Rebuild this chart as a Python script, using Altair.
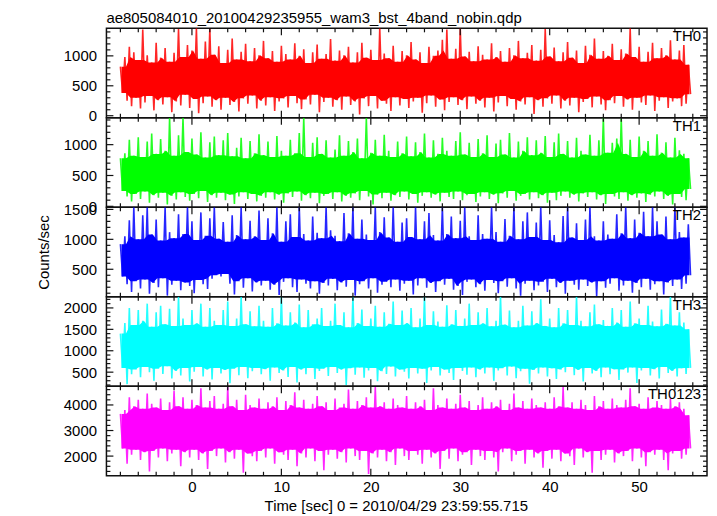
import altair as alt
import pandas as pd

FONT = "Liberation Sans"
TITLE = "ae805084010_20100429235955_wam3_bst_4band_nobin.qdp"
X_TITLE = "Time [sec] 0 = 2010/04/29 23:59:55.715"
Y_TITLE = "Counts/sec"

T_START = -8.0
BIN = 0.5

panel_names = ["TH0", "TH1", "TH2", "TH3", "TH0123"]
panel_colors = ["#ff0000", "#00ff00", "#0000ff", "#00ffff", "#ff00ff"]
y_domains = [[-35, 1460], [-16, 1435], [40, 1535], [170, 2260], [1230, 4730]]
y_major = [[0, 500, 1000], [0, 500, 1000], [500, 1000, 1500],
           [500, 1000, 1500, 2000], [2000, 3000, 4000]]
y_minor_step = [100, 100, 100, 100, 200]
x_domain = [-9.56, 57.59]
x_major = [0, 10, 20, 30, 40, 50]
x_minor_step = 2

# ---- TH0 (red): upper / lower excursions per 0.5 s bin ----
th0_hi = [820, 980, 1150, 1060, 930, 1440, 1010, 890, 1220, 970, 1130, 900, 1050, 1450, 980, 1180,
          1090, 1460, 950, 1240, 1450, 1020, 1160, 880, 1100, 1290, 940, 1070, 1200, 910, 1130, 1010,
          1250, 960, 1080, 900, 1170, 1030, 940, 1210, 1000, 1110, 880, 1060, 1190, 950, 1030, 1280,
          920, 1090, 1010, 1150, 890, 1060, 1220, 970, 1100, 930, 1460, 1040, 960, 1170, 900, 1080,
          1010, 1230, 940, 1060, 880, 1150, 1000, 1090, 1270, 1440, 950, 1120, 1460, 990, 1070, 910,
          1160, 1020, 940, 1210, 980, 1080, 900, 1130, 1010, 1250, 960, 1050, 1180, 920, 1100, 1450,
          990, 1140, 910, 1060, 1230, 970, 1090, 880, 1170, 1020, 1290, 950, 1080, 1000, 1200, 930,
          1110, 1040, 1460, 980, 1150, 900, 1070, 1220, 960, 1130, 1010, 1260, 940, 1090, 1180, 850]
th0_lo = [380, 250, 160, 300, 120, 220, 330, 90, 260, 190, 310, 60, 240, 170, 350, 130,
          280, 40, 210, 320, 150, 260, 100, 300, 180, 230, 70, 290, 200, 340, 120, 250,
          170, 310, 80, 240, 290, 140, 330, 210, 110, 270, 190, 350, 60, 230, 300, 150,
          260, 100, 320, 180, 240, 20, 290, 160, 330, 120, 250, 200, 80, 310, 170, 280,
          130, 240, 300, 50, 210, 340, 150, 270, 90, 230, 310, 180, 260, 110, 320, 200,
          250, 140, 300, 70, 220, 330, 160, 280, 100, 240, 190, 310, 30, 260, 150, 290,
          200, 340, 120, 250, 170, 300, 60, 230, 280, 140, 320, 190, 90, 260, 210, 330,
          150, 270, 100, 300, 220, 180, 340, 80, 250, 310, 130, 240, 290, 160, 200, 360]

# ---- TH1 (green) ----
th1_hi = [780, 860, 1080, 820, 1120, 800, 1050, 1180, 850, 1090, 900, 1430, 820, 1150, 1435, 880,
          1100, 840, 1200, 790, 1040, 1130, 830, 1070, 1190, 810, 950, 1110, 780, 1060, 860, 1170,
          830, 1050, 800, 1140, 900, 820, 1080, 860, 1190, 1435, 800, 1030, 1120, 850, 1070, 790,
          920, 1150, 820, 1060, 880, 1100, 780, 1430, 870, 1080, 820, 1160, 900, 800, 1050, 860,
          1130, 810, 1040, 880, 1180, 790, 1070, 850, 1110, 900, 820, 1060, 1200, 840, 1030, 800,
          1090, 860, 1150, 800, 1020, 1080, 840, 1190, 790, 1050, 900, 1120, 830, 1070, 870, 1140,
          800, 1040, 1180, 850, 1060, 790, 1110, 900, 840, 1160, 820, 1070, 1435, 870, 1030, 1100,
          1420, 850, 1080, 800, 1130, 900, 1060, 820, 1170, 870, 1040, 790, 1110, 910, 850, 780]
th1_lo = [250, 160, 80, 200, 120, 240, 60, 180, 140, 220, 30, 170, 110, 230, 150, 90,
          200, 130, 250, 70, 180, 140, 220, 100, 190, 40, 160, 230, 120, 200, 80, 170,
          140, 230, 110, 190, 60, 210, 150, 240, 90, 180, 130, 220, 50, 170, 200, 120,
          230, 80, 170, 140, 210, 100, 250, 160, 30, 190, 130, 220, 90, 180, 150, 240,
          110, 200, 60, 170, 230, 140, 190, 80, 220, 150, 120, 240, 100, 180, 200, 70,
          160, 230, 120, 190, 50, 210, 140, 250, 90, 170, 200, 110, 230, 130, 180, 60,
          220, 100, 170, 240, 140, 190, 80, 210, 150, 230, 110, 180, 40, 200, 160, 120,
          230, 90, 180, 140, 210, 70, 190, 160, 240, 120, 170, 30, 200, 150, 100, 280]

# ---- TH2 (blue) ----
th2_hi = [920, 1050, 1320, 1535, 1000, 1400, 1535, 1080, 1330, 980, 1535, 1120, 1020, 1420, 1090, 1535,
          1300, 990, 1450, 1060, 1350, 1535, 1010, 1290, 960, 1400, 1070, 1535, 1000, 1310, 1050, 1480,
          990, 1350, 1100, 1535, 960, 1300, 1420, 1040, 1535, 1090, 980, 1380, 1110, 1020, 1535, 1150,
          1060, 970, 1440, 1100, 1535, 1010, 1330, 1080, 990, 1535, 1120, 1370, 1030, 1535, 960, 1280,
          1350, 1040, 1535, 1000, 1300, 1440, 1070, 980, 1535, 1090, 1380, 1020, 1310, 1535, 1050, 990,
          1400, 1090, 1010, 1535, 1120, 960, 1340, 1060, 1535, 1000, 1300, 1450, 1040, 1280, 1535, 990,
          1320, 1070, 950, 1390, 1535, 1030, 1270, 990, 1330, 1535, 1050, 980, 1300, 1080, 1010, 1420,
          1100, 1535, 1020, 1330, 1110, 1460, 1050, 1535, 1300, 1080, 1380, 1000, 1535, 1120, 1030, 1250]
th2_lo = [380, 250, 120, 300, 180, 330, 90, 270, 200, 350, 60, 240, 310, 150, 280, 220,
          100, 320, 250, 170, 340, 400, 380, 420, 260, 80, 300, 190, 350, 130, 280, 230,
          310, 160, 240, 70, 290, 350, 200, 120, 330, 260, 180, 300, 90, 270, 230, 340,
          150, 280, 210, 320, 60, 250, 300, 180, 350, 110, 240, 290, 200, 330, 140, 260,
          310, 80, 230, 350, 190, 270, 120, 300, 240, 340, 160, 220, 70, 290, 330, 200,
          250, 140, 320, 270, 100, 300, 210, 350, 180, 60, 260, 310, 150, 230, 290, 120,
          340, 200, 270, 90, 310, 240, 160, 330, 220, 280, 50, 300, 190, 260, 350, 140,
          230, 310, 110, 270, 200, 340, 160, 250, 300, 80, 280, 220, 330, 170, 260, 400]

# ---- TH3 (cyan) ----
th3_hi = [1400, 1650, 2000, 1600, 1950, 1700, 2100, 1560, 1900, 2050, 1620, 1980, 1580, 2260, 1750, 1600,
          1950, 1640, 2100, 1560, 2000, 1700, 1600, 1950, 2150, 1580, 1750, 2260, 1620, 1920, 1570, 2050,
          1700, 1560, 2000, 1640, 2260, 1590, 1900, 1660, 2080, 1550, 1950, 1620, 1750, 2000, 1580, 1700,
          2100, 1600, 1900, 1550, 2260, 1650, 1960, 1580, 1750, 2050, 1560, 1900, 1630, 2150, 1600, 1940,
          1650, 2000, 1550, 1750, 2260, 1600, 1920, 1680, 1560, 2060, 1620, 1950, 1580, 1750, 2100, 1600,
          1900, 1640, 2000, 1570, 1700, 2260, 1610, 1940, 1550, 1700, 2050, 1590, 1920, 1650, 2200, 1580,
          1750, 1550, 2000, 1640, 1950, 1600, 2260, 1700, 1570, 1900, 2080, 1620, 1720, 1580, 2000, 1660,
          1950, 1560, 2150, 1640, 1750, 1600, 2050, 1680, 1570, 1960, 1630, 2260, 1590, 1900, 1660, 1500]
th3_lo = [600, 220, 450, 560, 380, 620, 500, 300, 580, 460, 640, 350, 530, 420, 600, 280,
          510, 620, 400, 560, 330, 600, 470, 550, 240, 580, 430, 620, 360, 520, 600, 450,
          570, 300, 610, 480, 540, 390, 620, 260, 560, 450, 600, 340, 530, 580, 410, 620,
          480, 560, 200, 590, 440, 610, 370, 540, 600, 290, 520, 460, 630, 400, 560, 510,
          350, 600, 470, 580, 250, 540, 620, 420, 560, 480, 320, 600, 530, 440, 610, 380,
          560, 470, 610, 300, 540, 590, 420, 630, 360, 520, 580, 230, 550, 470, 610, 400,
          590, 340, 560, 500, 620, 430, 550, 280, 600, 470, 530, 380, 610, 450, 570, 320,
          560, 490, 610, 250, 540, 600, 420, 570, 350, 620, 480, 530, 400, 590, 460, 600]

# ---- TH0123 (magenta) ----
th0123_hi = [3650, 3800, 4300, 3950, 4200, 3850, 4450, 4050, 3900, 4250, 3800, 4100, 4550, 3950, 4300, 3850,
             4200, 4000, 4650, 3900, 4150, 4350, 3850, 4050, 4700, 3950, 4200, 3800, 4400, 4000, 3900, 4250,
             3850, 4100, 3950, 4300, 3800, 4150, 4000, 4500, 3900, 4200, 3850, 4050, 4350, 3950, 4100, 3800,
             4250, 3900, 4050, 4600, 3850, 4150, 4000, 4300, 3900, 4700, 3950, 4100, 3850, 4250, 4000, 3900,
             4350, 3850, 4100, 3950, 4200, 3800, 4650, 4000, 3900, 4250, 3850, 4050, 4400, 3900, 4150, 3800,
             4000, 4300, 3850, 4100, 3950, 4200, 3800, 4050, 4450, 3900, 4150, 3850, 4250, 4000, 3900, 4100,
             3850, 4300, 3950, 4700, 3900, 4100, 3850, 4200, 4000, 3800, 4350, 3950, 4150, 3850, 4250, 4000,
             3900, 4200, 4650, 3950, 4050, 3850, 4300, 3900, 4150, 4000, 3850, 4250, 3950, 4100, 3850, 3600]
th0123_lo = [2300, 1700, 2050, 2250, 1850, 2150, 1400, 2200, 1950, 2300, 1800, 2100, 2250, 1600, 2150, 1950,
             2250, 1850, 2100, 1500, 2200, 2000, 2300, 1750, 2150, 1900, 2250, 1350, 2100, 2000, 1800, 2200,
             1950, 2300, 1700, 2150, 2050, 1850, 2250, 1600, 2100, 1950, 2300, 1800, 2200, 1450, 2050, 2250,
             1900, 2150, 1750, 2300, 2000, 1850, 2200, 1300, 2100, 1950, 2250, 1800, 2150, 1650, 2300, 2000,
             1850, 2200, 2050, 1700, 2250, 1950, 2100, 1500, 2200, 1900, 2300, 1800, 2050, 2150, 1650, 2250,
             2000, 1850, 2200, 1950, 1400, 2150, 2300, 1800, 2050, 2200, 1700, 2250, 1950, 2100, 1550, 2200,
             1900, 2250, 1800, 2100, 2000, 1650, 2300, 1950, 2150, 1350, 2200, 1850, 2050, 2250, 1750, 2100,
             2000, 2200, 1800, 2300, 1950, 1600, 2150, 2050, 2250, 1850, 1450, 2100, 2200, 1900, 2050, 2300]

series_hi = [th0_hi, th1_hi, th2_hi, th3_hi, th0123_hi]
series_lo = [th0_lo, th1_lo, th2_lo, th3_lo, th0123_lo]

W, H = 604, 90
TICK_MAJ, TICK_MIN = 7, 4
FRAME = "#111111"


def series_frame(hi, lo):
    rows = []
    for i, (h, l) in enumerate(zip(hi, lo)):
        t0 = T_START + BIN * i
        rows.append({"t": t0, "value": h})
        rows.append({"t": t0 + BIN / 2, "value": l})
    return pd.DataFrame(rows)


def core_frame(hi, lo):
    # densely-covered band: where every excursion of the trace passes
    h = pd.Series(hi)
    l = pd.Series(lo)
    top = h.rolling(3, center=True, min_periods=1).min()
    bot = l.rolling(3, center=True, min_periods=1).max()
    t = [T_START + BIN * i + BIN / 4 for i in range(len(hi))]
    return pd.DataFrame({"t": t, "value": bot, "value2": top})


def y_rules(vals, scale, axis, length, side):
    d = pd.DataFrame({"v": vals})
    x1, x2 = (0, length) if side == "left" else (W, W - length)
    return alt.Chart(d).mark_rule(color=FRAME, strokeWidth=1.2).encode(
        y=alt.Y("v:Q", scale=scale, axis=axis), x=alt.value(x1), x2=alt.value(x2))


def x_rules(vals, scale, axis, length, side):
    d = pd.DataFrame({"v": vals})
    y1, y2 = (H, H - length) if side == "bottom" else (0, length)
    return alt.Chart(d).mark_rule(color=FRAME, strokeWidth=1.2).encode(
        x=alt.X("v:Q", scale=scale, axis=axis), y=alt.value(y1), y2=alt.value(y2))


x_min_vals = [v for v in range(-8, 58, x_minor_step) if v % 10 != 0]

panels = []
for k in range(5):
    df = series_frame(series_hi[k], series_lo[k])
    core = core_frame(series_hi[k], series_lo[k])
    xs = alt.Scale(domain=x_domain, nice=False, zero=False)
    ys = alt.Scale(domain=y_domains[k], nice=False, zero=False)
    bottom = k == 4
    if bottom:
        xaxis = alt.Axis(values=x_major, format="d", labelFontSize=15, labelPadding=4,
                         title=X_TITLE, titleFontSize=15, titlePadding=4, titleX=291)
    else:
        xaxis = None
    yaxis = alt.Axis(values=y_major[k], format="d", labelFontSize=15, labelPadding=10,
                     title=(Y_TITLE if k == 2 else None), titleFontSize=15, titlePadding=12)
    band = alt.Chart(core).mark_area(color=panel_colors[k], clip=True, opacity=1).encode(
        x=alt.X("t:Q", scale=xs, axis=xaxis),
        y=alt.Y("value:Q", scale=ys, axis=yaxis),
        y2="value2:Q",
    )
    line = alt.Chart(df).mark_line(color=panel_colors[k], strokeWidth=1.6, strokeOpacity=0.85,
                                   clip=True).encode(
        x=alt.X("t:Q", scale=xs, axis=xaxis),
        y=alt.Y("value:Q", scale=ys, axis=yaxis),
    )
    lo_d, hi_d = y_domains[k]
    step = y_minor_step[k]
    y_min_vals = [v for v in range((int(lo_d) // step + 1) * step, int(hi_d) + 1, step)
                  if v not in y_major[k]]
    layers = [band, line,
              y_rules(y_major[k], ys, yaxis, TICK_MAJ, "left"), y_rules(y_min_vals, ys, yaxis, TICK_MIN, "left"),
              y_rules(y_major[k], ys, yaxis, TICK_MAJ, "right"), y_rules(y_min_vals, ys, yaxis, TICK_MIN, "right"),
              x_rules(x_major, xs, xaxis, TICK_MAJ, "bottom"), x_rules(x_min_vals, xs, xaxis, TICK_MIN, "bottom"),
              x_rules(x_major, xs, xaxis, TICK_MAJ, "top"), x_rules(x_min_vals, xs, xaxis, TICK_MIN, "top")]
    label = alt.Chart(pd.DataFrame({"label": [panel_names[k]]})).mark_text(
        align="right", baseline="top", fontSize=15, font=FONT, color="black").encode(
        text="label:N", x=alt.value(W - 6), y=alt.value(1))
    layers.append(label)
    p = alt.layer(*layers).properties(width=W, height=H)
    if k == 0:
        p = p.properties(title=alt.TitleParams(TITLE, anchor="start", frame="group", fontSize=15,
                                               font=FONT, fontWeight="normal", color="black", offset=2))
    panels.append(p)

chart = alt.vconcat(*panels, spacing=0, bounds="flush").properties(
    padding={"left": 27, "top": 0, "right": 0, "bottom": 0}
).configure_view(stroke=FRAME, strokeWidth=1.5).configure_axis(
    labelFont=FONT, titleFont=FONT, labelColor="black", titleColor="black",
    titleFontWeight="normal", grid=False, domain=False, ticks=False, tickSize=0
)

chart.save("out.html", embed_options={"renderer": "svg", "actions": False})
